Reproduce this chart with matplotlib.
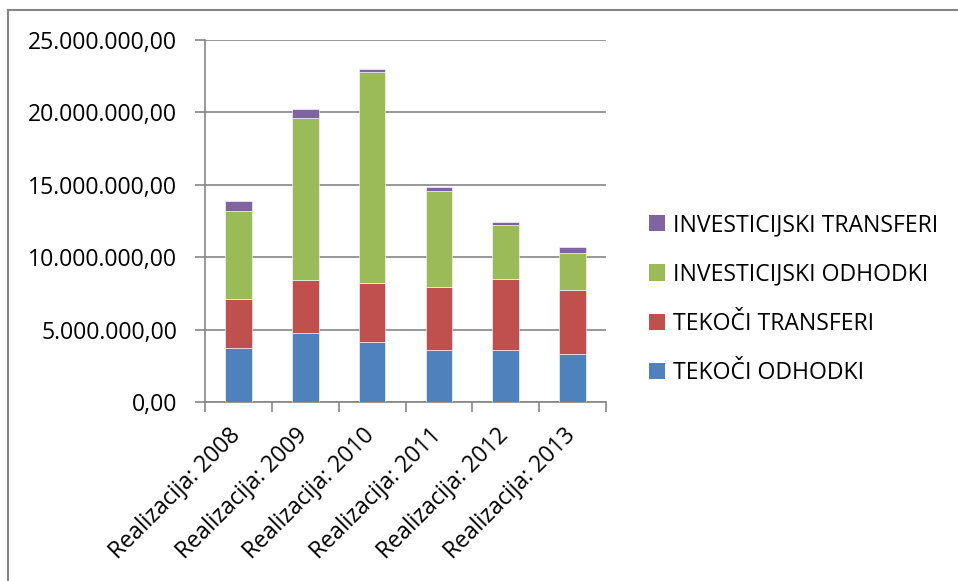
import matplotlib.pyplot as plt
import numpy as np
from matplotlib.lines import Line2D
from matplotlib.patches import Patch
from matplotlib.ticker import FuncFormatter, FixedLocator
from matplotlib.transforms import ScaledTranslation

plt.rcParams['font.family'] = ['Open Sans', 'DejaVu Sans']

years = ['Realizacija: 2008', 'Realizacija: 2009', 'Realizacija: 2010',
         'Realizacija: 2011', 'Realizacija: 2012', 'Realizacija: 2013']
tekoci_odhodki = [3.76e6, 4.79e6, 4.17e6, 3.62e6, 3.62e6, 3.34e6]
tekoci_transferi = [3.38e6, 3.64e6, 4.06e6, 4.31e6, 4.88e6, 4.40e6]
investicijski_odhodki = [6.09e6, 11.18e6, 14.56e6, 6.66e6, 3.76e6, 2.58e6]
investicijski_transferi = [0.64e6, 0.60e6, 0.23e6, 0.27e6, 0.16e6, 0.37e6]

series = [
    ('TEKOČI ODHODKI', tekoci_odhodki, '#4F81BD'),
    ('TEKOČI TRANSFERI', tekoci_transferi, '#C0504D'),
    ('INVESTICIJSKI ODHODKI', investicijski_odhodki, '#9BBB59'),
    ('INVESTICIJSKI TRANSFERI', investicijski_transferi, '#8064A2'),
]

grid_col = '#868686'

fig = plt.figure(figsize=(9.58, 5.81), dpi=100)
ax = fig.add_axes([0.214, 0.308, 0.4186, 0.623])

x = np.arange(len(years))
bottom = np.zeros(len(years))
for name, vals, col in series:
    ax.bar(x, vals, 0.4, bottom=bottom, color=col, edgecolor='white',
           linewidth=0.4, zorder=3)
    bottom += np.array(vals)

ax.set_xlim(-0.5, len(years) - 0.5)
ax.set_ylim(0, 25e6)
ax.set_yticks(np.arange(0, 25e6 + 1, 5e6))
ax.yaxis.set_major_formatter(FuncFormatter(
    lambda v, p: f'{v:,.2f}'.replace(',', 'X').replace('.', ',').replace('X', '.')))
ax.yaxis.grid(True, color=grid_col, linewidth=1.2, zorder=0)

# category labels: rotated text ending just under each category centre
ax.set_xticks([])
shift = ScaledTranslation(-1 / 100, -30 / 100, fig.dpi_scale_trans)
for xi, lab in zip(x, years):
    ax.text(xi, 0, lab, transform=ax.get_xaxis_transform() + shift,
            rotation=45, rotation_mode='anchor', ha='right', va='center',
            fontsize=16.6)
ax.xaxis.set_minor_locator(FixedLocator(np.arange(-0.5, len(years), 1.0)))
ax.tick_params(axis='x', which='minor', length=7, width=1.2, color=grid_col)
ax.tick_params(axis='y', length=7, width=1.2, color=grid_col, pad=13, labelsize=16.6)

for s in ['top', 'right']:
    ax.spines[s].set_visible(False)
for s in ['left', 'bottom']:
    ax.spines[s].set_color(grid_col)
    ax.spines[s].set_linewidth(1.2)

handles = [Patch(facecolor=col, label=name) for name, vals, col in series][::-1]
fig.legend(handles=handles, loc='center left', bbox_to_anchor=(0.6555, 0.485),
           frameon=False, fontsize=16.6, handlelength=0.7, handleheight=0.7,
           handletextpad=0.35, labelspacing=1.1)

# outer chart frame (top and left edges visible)
fig.add_artist(Line2D([0.008, 1.0], [0.982, 0.982], color=grid_col, lw=1.5))
fig.add_artist(Line2D([0.0085, 0.0085], [0.0, 0.982], color=grid_col, lw=1.5))

fig.savefig('out.png', dpi=100)
